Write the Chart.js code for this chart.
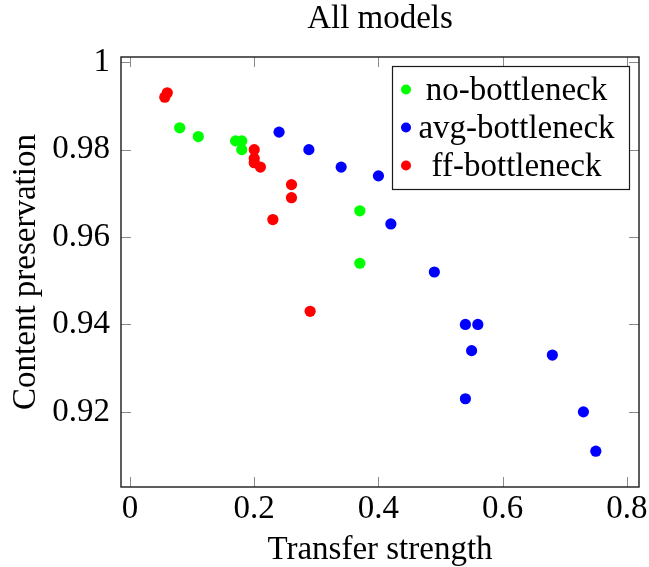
<!DOCTYPE html>
<html>
<head>
<meta charset="utf-8">
<script src="https://cdn.jsdelivr.net/npm/chart.js@4"></script>
<style>
  html, body { margin: 0; padding: 0; background: #fff; }
  #wrap { width: 649px; height: 567px; }
</style>
</head>
<body>
<div id="wrap"><canvas id="scatterChart" width="649" height="567"></canvas></div>
<script>
// Séries
const noBottleneckX = [0.08, 0.11, 0.17, 0.18, 0.18, 0.37, 0.37];
const noBottleneckY = [0.985, 0.983, 0.982, 0.982, 0.980, 0.966, 0.954];

const avgBottleneckX = [0.24, 0.288, 0.34, 0.40, 0.42, 0.49, 0.54, 0.56, 0.55, 0.68, 0.54, 0.73, 0.75];
const avgBottleneckY = [0.984, 0.980, 0.976, 0.974, 0.963, 0.952, 0.940, 0.940, 0.934, 0.933, 0.923, 0.920, 0.911];

const ffBottleneckX = [0.056, 0.06, 0.20, 0.20, 0.20, 0.21, 0.26, 0.26, 0.23, 0.29];
const ffBottleneckY = [0.992, 0.993, 0.980, 0.978, 0.977, 0.976, 0.972, 0.969, 0.964, 0.943];

const seriesLabels = ['no-bottleneck', 'avg-bottleneck', 'ff-bottleneck'];
const seriesColors = ['#00ff00', '#0000ff', '#ff0000'];

const xTicks = [0, 0.2, 0.4, 0.6, 0.8];
const yTicks = [0.92, 0.94, 0.96, 0.98, 1];

const serif = "'Liberation Serif', 'Times New Roman', serif";
const fontSize = 33;

function toPoints(xs, ys) {
    return xs.map(function(x, i) { return { x: x, y: ys[i] }; });
}

// moldura e marcas internas, estilo pgfplots
const frameTicks = {
    id: 'frameTicks',
    beforeDatasetsDraw: function(chart) {
        const ctx = chart.ctx;
        const a = chart.chartArea;
        const xs = chart.scales.x, ys = chart.scales.y;
        const len = 10;
        ctx.save();
        ctx.strokeStyle = '#8a8a8a';
        ctx.lineWidth = 1;
        ctx.beginPath();
        xs.ticks.forEach(function(t) {
            const px = Math.round(xs.getPixelForValue(t.value)) + 0.5;
            ctx.moveTo(px, a.bottom); ctx.lineTo(px, a.bottom - len);
            ctx.moveTo(px, a.top); ctx.lineTo(px, a.top + len);
        });
        ys.ticks.forEach(function(t) {
            const py = Math.round(ys.getPixelForValue(t.value)) + 0.5;
            ctx.moveTo(a.left, py); ctx.lineTo(a.left + len, py);
            ctx.moveTo(a.right, py); ctx.lineTo(a.right - len, py);
        });
        ctx.stroke();
        ctx.strokeStyle = '#1a1a1a';
        ctx.lineWidth = 1.4;
        ctx.strokeRect(a.left, a.top, a.right - a.left, a.bottom - a.top);
        ctx.restore();
    }
};

// legenda com texto centrado
const centeredLegend = {
    id: 'centeredLegend',
    afterDraw: function(chart) {
        const ctx = chart.ctx;
        const a = chart.chartArea;
        const right = a.right - 9.5, top = a.top + 9.5;
        const w = 237, h = 123;
        const left = right - w;
        ctx.save();
        ctx.fillStyle = '#fff';
        ctx.fillRect(left, top, w, h);
        ctx.strokeStyle = '#1a1a1a';
        ctx.lineWidth = 1.2;
        ctx.strokeRect(left, top, w, h);
        ctx.font = fontSize + 'px ' + serif;
        ctx.textAlign = 'center';
        ctx.textBaseline = 'alphabetic';
        chart.data.datasets.forEach(function(ds, i) {
            const cy = top + 23 + i * 38;
            ctx.fillStyle = ds.backgroundColor;
            ctx.beginPath();
            ctx.arc(left + 13.5, cy, 5, 0, Math.PI * 2);
            ctx.fill();
            ctx.fillStyle = '#000';
            ctx.fillText(ds.label, left + 124, cy + 10);
        });
        ctx.restore();
    }
};

const ctx = document.getElementById('scatterChart').getContext('2d');
const scatterChart = new Chart(ctx, {
    type: 'scatter',
    data: {
        datasets: [
            { label: seriesLabels[0], data: toPoints(noBottleneckX, noBottleneckY), backgroundColor: seriesColors[0] },
            { label: seriesLabels[1], data: toPoints(avgBottleneckX, avgBottleneckY), backgroundColor: seriesColors[1] },
            { label: seriesLabels[2], data: toPoints(ffBottleneckX, ffBottleneckY), backgroundColor: seriesColors[2] }
        ]
    },
    options: {
        responsive: false,
        animation: false,
        layout: { padding: { left: 0, right: 10, top: 0, bottom: 0 } },
        elements: { point: { radius: 5.6, borderWidth: 0, hoverRadius: 5.6 } },
        plugins: {
            legend: { display: false },
            tooltip: { enabled: false },
            title: {
                display: true,
                fullSize: false,
                text: 'All models',
                color: '#000',
                font: { family: serif, size: fontSize, weight: 'normal', lineHeight: 1.2 },
                padding: { top: 0, bottom: 17.4 }
            }
        },
        scales: {
            x: {
                type: 'linear',
                min: -0.0145,
                max: 0.8195,
                grid: { display: false, drawTicks: false },
                border: { display: false },
                afterBuildTicks: function(scale) {
                    scale.ticks = xTicks.map(function(v) { return { value: v }; });
                },
                afterFit: function(scale) {
                    scale.height = 80;
                    scale.paddingLeft = 0;
                    scale.paddingRight = 0;
                },
                ticks: {
                    color: '#000',
                    padding: 3,
                    maxRotation: 0,
                    font: { family: serif, size: fontSize, lineHeight: 1.2 },
                    callback: function(v) { return String(v); }
                },
                title: {
                    display: true,
                    text: 'Transfer strength',
                    color: '#000',
                    font: { family: serif, size: fontSize, lineHeight: 1 },
                    padding: { top: 0, bottom: 0 }
                }
            },
            y: {
                type: 'linear',
                min: 0.9028,
                max: 1.0012,
                grid: { display: false, drawTicks: false },
                border: { display: false },
                afterBuildTicks: function(scale) {
                    scale.ticks = yTicks.map(function(v) { return { value: v }; });
                },
                afterFit: function(scale) {
                    scale.width = 121;
                    scale.paddingTop = 0;
                    scale.paddingBottom = 0;
                },
                ticks: {
                    color: '#000',
                    padding: 11,
                    font: { family: serif, size: fontSize, lineHeight: 1.2 },
                    callback: function(v) { return String(v); }
                },
                title: {
                    display: true,
                    text: 'Content preservation',
                    color: '#000',
                    font: { family: serif, size: fontSize, lineHeight: 1 },
                    padding: { top: 10, bottom: 0 }
                }
            }
        }
    },
    plugins: [frameTicks, centeredLegend]
});
</script>
</body>
</html>
